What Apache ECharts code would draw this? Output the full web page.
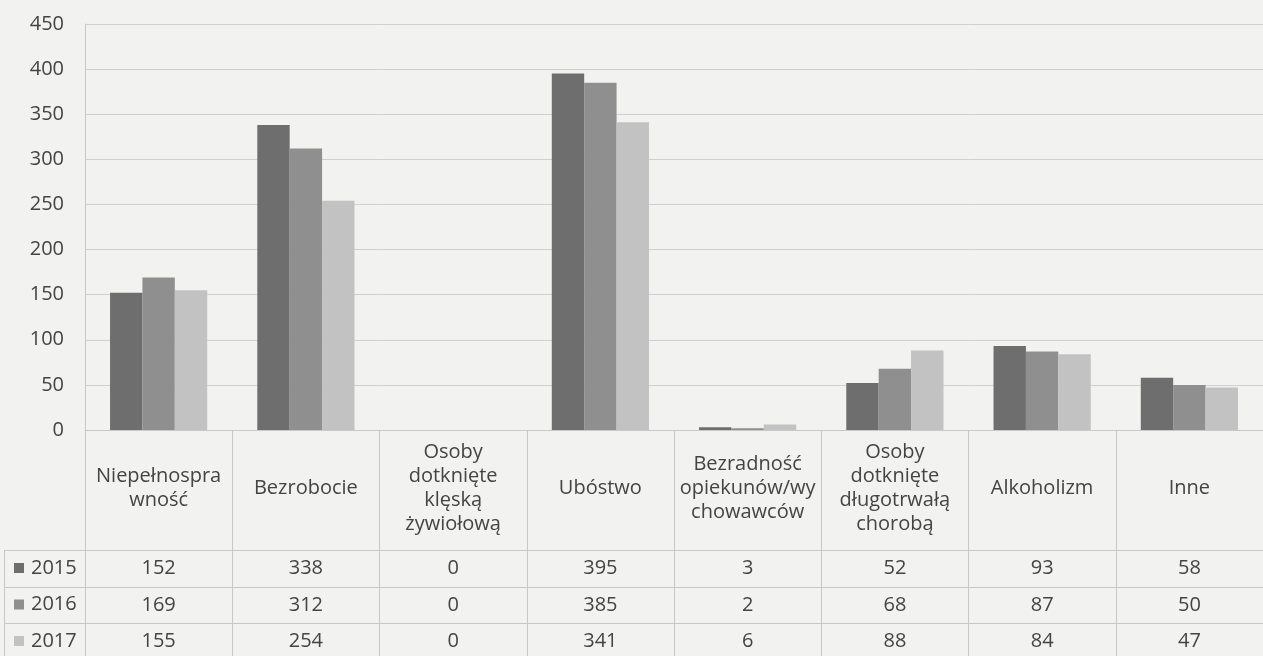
<!DOCTYPE html>
<html><head><meta charset="utf-8">
<script src="https://cdn.jsdelivr.net/npm/echarts@6/dist/echarts.min.js"></script>
<style>html,body{margin:0;padding:0;background:#f2f2f0;}#c{width:1263px;height:656px;}</style>
</head><body><div id="c"></div>
<script>
const categories = ["Niepełnospra\nwność","Bezrobocie","Osoby\ndotknięte\nklęską\nżywiołową","Ubóstwo","Bezradność\nopiekunów/wy\nchowawców","Osoby\ndotknięte\ndługotrwałą\nchorobą","Alkoholizm","Inne"];
const seriesNames = ["2015","2016","2017"];
const v2015 = [152,338,0,395,3,52,93,58];
const v2016 = [169,312,0,385,2,68,87,50];
const v2017 = [155,254,0,341,6,88,84,47];
const yTicks = {min:0, max:450, interval:50};

const values = [v2015, v2016, v2017];
const colors = ["#6e6e6e","#8f8f8f","#c2c2c2"];
const textColor = "#444444";
const lineColor = "#c8c8c8";
const FONT = "Open Sans";
const gridLeft = 85, gridTop = 24, gridBottom = 226;
const rowLines = [120, 157, 193]; // offsets below axis

const chart = echarts.init(document.getElementById('c'), null, {renderer:'canvas'});

const xAxes = [{
  type:'category', data:categories, gridIndex:0, position:'bottom',
  axisLine:{show:true, lineStyle:{color:lineColor}},
  axisTick:{show:true, length:226, interval:0, lineStyle:{color:lineColor}},
  axisLabel:{interval:0, fontFamily:FONT, fontSize:20, lineHeight:24, color:textColor, verticalAlign:'middle', margin:58}
}];
values.forEach((vals, i) => {
  xAxes.push({
    type:'category', data:vals.map(String), gridIndex:0, position:'bottom', offset:rowLines[i],
    axisLine:{show:true, lineStyle:{color:lineColor}},
    axisTick:{show:false},
    axisLabel:{interval:0, fontFamily:FONT, fontSize:20, color:textColor, verticalAlign:'middle', margin:18}
  });
});

const graphics = [];
const H = 656;
const lineStyle = {stroke:lineColor, lineWidth:1};
rowLines.forEach(o => {
  const y = 430 + o + 0.5;
  graphics.push({type:'line', shape:{x1:4, y1:y, x2:gridLeft, y2:y}, style:lineStyle, silent:true});
});
graphics.push({type:'line', shape:{x1:4.5, y1:430+rowLines[0], x2:4.5, y2:H}, style:lineStyle, silent:true});

chart.setOption({
  animation:false,
  backgroundColor:'#f2f2f0',
  textStyle:{fontFamily:FONT},
  grid:{left:gridLeft, right:0, top:gridTop, bottom:gridBottom, containLabel:false},
  legend:{
    orient:'vertical', left:14, top:558, padding:0, itemWidth:10, itemHeight:10, itemGap:16.5,
    icon:'rect', data:seriesNames, height:120,
    textStyle:{fontFamily:FONT, fontSize:20, color:textColor, lineHeight:20, padding:[0,0,0,2]}
  },
  xAxis:xAxes,
  yAxis:{
    type:'value', min:yTicks.min, max:yTicks.max, interval:yTicks.interval,
    axisLine:{show:true, lineStyle:{color:lineColor}},
    axisTick:{show:false},
    splitLine:{show:true, lineStyle:{color:'#d0d0d0'}},
    axisLabel:{fontFamily:FONT, fontSize:20, color:textColor, margin:21}
  },
  series: seriesNames.map((n,i) => ({
    name:n, type:'bar', xAxisIndex:0, data:values[i],
    barGap:'0%', barCategoryGap:'34%',
    itemStyle:{color:colors[i]}
  })),
  graphic:graphics
});
</script></body></html>
